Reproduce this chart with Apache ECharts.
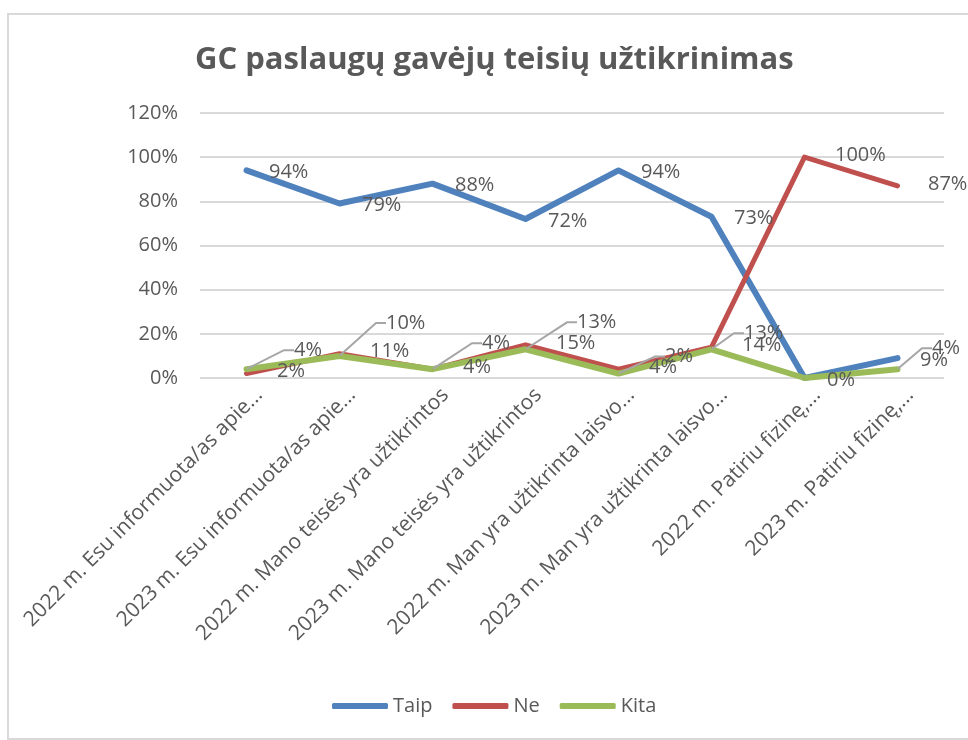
<!DOCTYPE html>
<html>
<head>
<meta charset="utf-8">
<script src="https://cdn.jsdelivr.net/npm/echarts@6/dist/echarts.min.js"></script>
<style>
  html, body { margin: 0; padding: 0; background: #fff; }
  #chart { width: 968px; height: 740px; }
</style>
</head>
<body>
<div id="chart"></div>
<script>
  // duomenys (%)
  const categories = [
    '2022 m. Esu informuota/as apie...',
    '2023 m. Esu informuota/as apie...',
    '2022 m. Mano teisės yra užtikrintos',
    '2023 m. Mano teisės yra užtikrintos',
    '2022 m. Man yra užtikrinta laisvo...',
    '2023 m. Man yra užtikrinta laisvo...',
    '2022 m. Patiriu fizinę,...',
    '2023 m. Patiriu fizinę,...'
  ]
  const taip = [94, 79, 88, 72, 94, 73, 0, 9]
  const ne = [2, 11, 4, 15, 4, 14, 100, 87]
  const kita = [4, 10, 4, 13, 2, 13, 0, 4]
  const yTicks = [0, 20, 40, 60, 80, 100, 120]

  // kitos etiketes, kurios paveiksle nerodomos
  const kitaNoLabel = [6]
  // kitos etikeciu poslinkiai (dx, dy)
  const kitaShift = [[42, -19], [41, -33], [44, -26], [46, -27], [41, -17], [27, -16], [0, 0], [29, -21]]

  const textColor = '#595959'
  const font = 'Open Sans'

  let myChart = echarts.init(document.getElementById('chart'))

  let option = {
    animation: false,
    color: ['#4F81BD', '#C0504D', '#9BBB59'],
    textStyle: { fontFamily: font },
    graphic: [
      {
        type: 'rect',
        shape: { x: 8, y: 14, width: 980, height: 725 },
        style: { fill: 'none', stroke: '#D9D9D9', lineWidth: 2 },
        silent: true
      }
    ],
    title: {
      text: 'GC paslaugų gavėjų teisių užtikrinimas',
      left: 190,
      top: 40,
      textStyle: { fontFamily: font, fontSize: 31, fontWeight: 'bold', color: textColor }
    },
    legend: {
      data: ['Taip', 'Ne', 'Kita'],
      left: 327,
      top: 691,
      icon: 'roundRect',
      itemWidth: 56,
      itemHeight: 6,
      itemGap: 20,
      textStyle: { fontFamily: font, fontSize: 20, color: textColor }
    },
    grid: {
      left: 200,
      right: 24,
      top: 113,
      bottom: 362
    },
    xAxis: {
      type: 'category',
      data: categories,
      axisLine: { show: false },
      axisTick: { show: false },
      axisLabel: {
        interval: 0,
        rotate: 45,
        margin: 1,
        verticalAlign: 'top',
        lineHeight: 36,
        fontFamily: font,
        fontSize: 21,
        color: textColor
      }
    },
    yAxis: {
      type: 'value',
      min: yTicks[0],
      max: yTicks[yTicks.length - 1],
      interval: 20,
      axisLine: { show: false },
      axisTick: { show: false },
      splitLine: { lineStyle: { color: '#D9D9D9', width: 2 } },
      axisLabel: {
        margin: 22,
        fontFamily: font,
        fontSize: 20,
        color: textColor,
        formatter: '{value}%'
      }
    },
    series: [
      {
        name: 'Taip',
        type: 'line',
        data: taip,
        symbol: 'circle',
        symbolSize: 1,
        lineStyle: { width: 6, cap: 'round', join: 'round' },
        label: {
          show: true,
          position: 'right',
          distance: 22,
          offset: [0, 2],
          formatter: '{c}%',
          fontFamily: font,
          fontSize: 20,
          color: textColor
        }
      },
      {
        name: 'Ne',
        type: 'line',
        data: ne,
        symbol: 'circle',
        symbolSize: 1,
        lineStyle: { width: 5, cap: 'round', join: 'round' },
        label: {
          show: true,
          position: 'right',
          distance: 30,
          offset: [0, -2],
          formatter: '{c}%',
          fontFamily: font,
          fontSize: 20,
          color: textColor
        }
      },
      {
        name: 'Kita',
        type: 'line',
        data: kita.map((v, i) => kitaNoLabel.indexOf(i) >= 0 ? { value: v, label: { show: false } } : v),
        symbol: 'circle',
        symbolSize: 1,
        lineStyle: { width: 6, cap: 'round', join: 'round' },
        label: {
          show: true,
          position: 'right',
          distance: 5,
          formatter: '{c}%',
          fontFamily: font,
          fontSize: 20,
          color: textColor
        },
        labelLine: {
          show: true,
          length2: 10,
          lineStyle: { color: '#A6A6A6', width: 2 }
        },
        labelLayout: function (params) {
          let s = kitaShift[params.dataIndex]
          return { dx: s[0], dy: s[1] }
        }
      }
    ]
  }

  myChart.setOption(option)
</script>
</body>
</html>
